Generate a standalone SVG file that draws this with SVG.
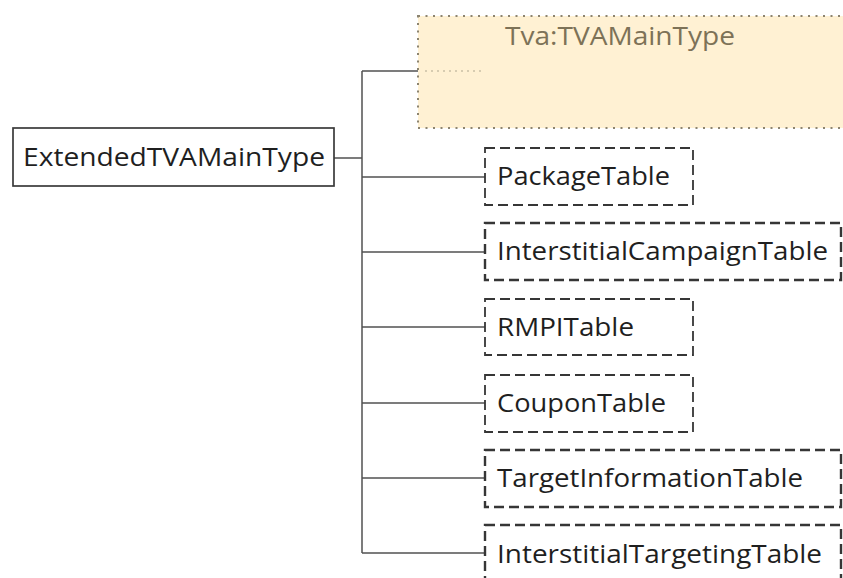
<svg xmlns="http://www.w3.org/2000/svg" width="843" height="578" viewBox="0 0 843 578">
  <style>
    .lbl { font-family: "Open Sans", "Liberation Sans", sans-serif; font-size: 25px; fill: #1f1f1f; }
    .root { fill: #ffffff; stroke: #3a3a3a; stroke-width: 1.7; }
    .opt { fill: #ffffff; stroke: #363636; stroke-width: 1.8; stroke-dasharray: 10 5; }
    .optw { fill: #ffffff; stroke: #363636; stroke-width: 2.4; stroke-dasharray: 10 5; }
    .base { fill: #fff1d3; stroke: #8c8470; stroke-width: 2; stroke-dasharray: 2 5.5; }
    .wire { fill: none; stroke: #505050; stroke-width: 1.5; }
  </style>
  <rect width="843" height="578" fill="#ffffff"/>

  <!-- connectors: one bus from the root, a branch to each child -->
  <g id="connectors">
    <path class="wire" d="M334 158 H362"/>
    <path class="wire" d="M362 71 V553"/>
    <path class="wire" d="M362 71 H418"/>
    <path class="wire" d="M362 177 H485"/>
    <path class="wire" d="M362 252 H485"/>
    <path class="wire" d="M362 327 H485"/>
    <path class="wire" d="M362 403 H485"/>
    <path class="wire" d="M362 478 H485"/>
    <path class="wire" d="M362 553 H485"/>
  </g>

  <g id="ExtendedTVAMainType">
    <rect class="root" x="13" y="128" width="321" height="58"/>
    <text class="lbl" x="23" y="166" textLength="302" lengthAdjust="spacingAndGlyphs">ExtendedTVAMainType</text>
  </g>

  <!-- inherited base type, drawn as a dotted shaded box -->
  <g id="TVAMainType">
    <rect class="base" x="418" y="16" width="440" height="112"/>
    <path d="M425 71 H482" fill="none" stroke="#b0a890" stroke-width="1.2" stroke-dasharray="2 4"/>
    <text class="lbl" x="505" y="45" textLength="230" lengthAdjust="spacingAndGlyphs" style="fill:#7d7257">Tva:TVAMainType</text>
  </g>

  <g id="PackageTable">
    <rect class="opt" x="485" y="148" width="208" height="57"/>
    <text class="lbl" x="497" y="185" textLength="173" lengthAdjust="spacingAndGlyphs">PackageTable</text>
  </g>

  <g id="InterstitialCampaignTable">
    <rect class="optw" x="485" y="223" width="356" height="57"/>
    <text class="lbl" x="497" y="260" textLength="331" lengthAdjust="spacingAndGlyphs">InterstitialCampaignTable</text>
  </g>

  <g id="RMPITable">
    <rect class="opt" x="485" y="299" width="208" height="56"/>
    <text class="lbl" x="497" y="336" textLength="137" lengthAdjust="spacingAndGlyphs">RMPITable</text>
  </g>

  <g id="CouponTable">
    <rect class="opt" x="485" y="375" width="208" height="57"/>
    <text class="lbl" x="497" y="412" textLength="169" lengthAdjust="spacingAndGlyphs">CouponTable</text>
  </g>

  <g id="TargetInformationTable">
    <rect class="optw" x="485" y="450" width="356" height="57"/>
    <text class="lbl" x="497" y="487" textLength="306" lengthAdjust="spacingAndGlyphs">TargetInformationTable</text>
  </g>

  <g id="InterstitialTargetingTable">
    <rect class="optw" x="485" y="525" width="356" height="57"/>
    <text class="lbl" x="497" y="563" textLength="325" lengthAdjust="spacingAndGlyphs">InterstitialTargetingTable</text>
  </g>
</svg>
